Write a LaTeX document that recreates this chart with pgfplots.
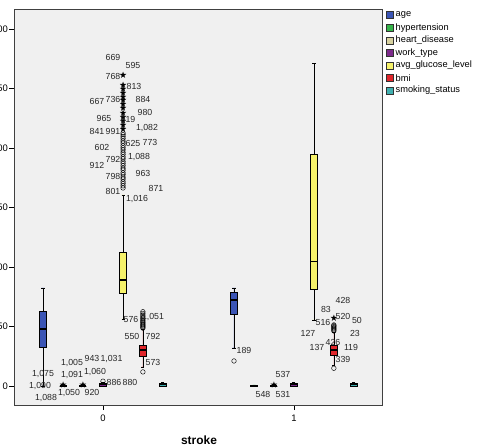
\documentclass[border=0pt]{standalone}
\usepackage{fontspec}
\setmainfont{Liberation Sans}
\usepackage{pgfplots}
\pgfplotsset{compat=1.18}
\usepgfplotslibrary{statistics}
\definecolor{cage}{RGB}{59,85,181}
\definecolor{chyp}{RGB}{53,180,74}
\definecolor{cheart}{RGB}{216,210,160}
\definecolor{cwork}{RGB}{125,42,140}
\definecolor{cgluc}{RGB}{246,242,106}
\definecolor{cbmi}{RGB}{224,38,43}
\definecolor{csmoke}{RGB}{64,176,176}
\definecolor{bgc}{RGB}{240,240,240}
\pgfdeclareplotmark{fstar}{%
  \pgfpathmoveto{\pgfpointpolar{90}{\pgfplotmarksize}}%
  \pgfpathlineto{\pgfpointpolar{126}{0.4\pgfplotmarksize}}%
  \pgfpathlineto{\pgfpointpolar{162}{\pgfplotmarksize}}%
  \pgfpathlineto{\pgfpointpolar{198}{0.4\pgfplotmarksize}}%
  \pgfpathlineto{\pgfpointpolar{234}{\pgfplotmarksize}}%
  \pgfpathlineto{\pgfpointpolar{270}{0.4\pgfplotmarksize}}%
  \pgfpathlineto{\pgfpointpolar{306}{\pgfplotmarksize}}%
  \pgfpathlineto{\pgfpointpolar{342}{0.4\pgfplotmarksize}}%
  \pgfpathlineto{\pgfpointpolar{18}{\pgfplotmarksize}}%
  \pgfpathlineto{\pgfpointpolar{54}{0.4\pgfplotmarksize}}%
  \pgfpathclose
  \pgfusepathqfill}
\newcommand\bx[7]{%
  \addplot[draw=black, fill=#1, line width=0.5pt,
    boxplot prepared={draw position=#2, lower whisker=#3, lower quartile=#4,
      median=#5, upper quartile=#6, upper whisker=#7,
      box extend=0.037, whisker extend=0.016,
      every median/.style={line width=1.4pt}}] coordinates {};}
\newcommand\lab[3]{\node[font=\fontsize{8.8}{9}\selectfont, text=black!85, inner sep=0pt] at ({#1*1bp},{(447-#2)*1bp}) {#3};}
\newcommand\leg[3]{%
  \fill[#2, draw=black!80, line width=0.4pt] (386bp,{(447-#3-3.5)*1bp}) rectangle (393bp,{(447-#3+3.5)*1bp});
  \node[anchor=west, inner sep=0pt, font=\fontsize{9.3}{10}\selectfont] at (395.5bp,{(447-#3)*1bp}) {#1};}
\begin{document}
\begin{tikzpicture}
\begin{axis}[
  at={(14bp,42bp)}, anchor=south west, scale only axis,
  width=368bp, height=396bp,
  xmin=-0.466, xmax=1.461, ymin=-16, ymax=316.8,
  xtick={0,1}, ytick={0,50,100,150,200,250,300},
  xtick pos=bottom, ytick pos=left,
  tick align=outside, major tick length=5bp,
  axis background/.style={fill=bgc},
  axis line style={black!75, line width=0.6pt},
  tick style={black, line width=0.5pt},
  ticklabel style={font=\fontsize{9.5}{10}\selectfont},
  /pgf/number format/assume math mode=true,
  yticklabel style={inner sep=1bp},
  xticklabel style={inner sep=4.5bp},
  clip=false,
  boxplot/draw direction=y,
]
% stroke = 0
\bx{cage}{-0.314}{0}{32.8}{48}{63}{82.4}
\bx{chyp}{-0.209}{0}{0}{0}{0}{0}
\bx{cheart}{-0.105}{0}{0}{0}{0}{0}
\bx{cwork}{0}{0}{0}{1}{2}{3}
\bx{cgluc}{0.105}{56.3}{78}{89}{112}{160.5}
\bx{cbmi}{0.209}{16}{25.2}{30.3}{34.5}{47.5}
\bx{csmoke}{0.314}{0}{0}{1}{2}{3}
% stroke = 1
\bx{cage}{0.686}{32}{60.5}{72.3}{79}{82.4}
\bx{chyp}{0.791}{0}{0}{0}{1}{1}
\bx{cheart}{0.895}{0}{0}{0}{0}{0}
\bx{cwork}{1}{0}{0}{1}{2}{3}
\bx{cgluc}{1.105}{55.5}{81.3}{104.5}{195}{271.4}
\bx{cbmi}{1.209}{17.6}{26}{30.3}{34.5}{45}
\bx{csmoke}{1.314}{0}{0}{1}{2}{3}
% circle outliers
\addplot[only marks, mark=o, mark size=2.3bp, black, line width=0.45pt] coordinates {
 (0,4)
 (0.105,166.4) (0.105,168.2) (0.105,170.1) (0.105,171.8) (0.105,173.9) (0.105,175.5)
 (0.105,177.6) (0.105,179.2) (0.105,181.4) (0.105,183.0) (0.105,185.1) (0.105,187.0)
 (0.105,188.7) (0.105,190.9) (0.105,192.5) (0.105,194.6) (0.105,196.3) (0.105,198.4)
 (0.105,200.2) (0.105,202.0) (0.105,204.1) (0.105,205.8) (0.105,207.9) (0.105,209.6)
 (0.105,211.2) (0.105,212.6)
 (0.209,11.8) (0.209,48.6) (0.209,49.4) (0.209,50.3) (0.209,51.2) (0.209,52.0)
 (0.209,53.1) (0.209,53.9) (0.209,55.0) (0.209,56.2) (0.209,57.1) (0.209,58.3)
 (0.209,59.6) (0.209,61.0) (0.209,62.4)
 (0.686,21)
 (1.209,14.9) (1.209,46.2) (1.209,47.1) (1.209,48.0) (1.209,48.9) (1.209,49.8)
 (1.209,50.6) (1.209,51.3)
};
% extreme outliers
\addplot[only marks, mark=fstar, mark size=3.4bp, black, fill=black] coordinates {
 (-0.209,1) (-0.105,1) (0.895,1)
 (0.105,215.9) (0.105,219.3) (0.105,222.7) (0.105,226) (0.105,229.4) (0.105,233.6)
 (0.105,236.9) (0.105,240.3) (0.105,242.9) (0.105,246.2) (0.105,249.6) (0.105,252.9)
 (0.105,261.3)
 (1.209,57.1)
};
\end{axis}
% point labels
\lab{113}{57}{669}
\lab{133}{65}{595}
\lab{113}{76}{768}
\lab{134}{86}{813}
\lab{97}{101}{667}
\lab{113}{99}{736}
\lab{143}{99}{884}
\lab{104}{118}{965}
\lab{128}{119}{819}
\lab{145}{112}{980}
\lab{97}{131}{841}
\lab{113}{131}{991}
\lab{147}{128}{1,082}
\lab{102}{147}{602}
\lab{133}{143}{625}
\lab{150}{142}{773}
\lab{113}{159}{792}
\lab{139}{157}{1,088}
\lab{97}{165}{912}
\lab{113}{176}{798}
\lab{143}{173}{963}
\lab{156}{188}{871}
\lab{113}{191}{801}
\lab{137}{199}{1,016}
\lab{43}{374}{1,075}
\lab{40}{386}{1,090}
\lab{46}{398}{1,088}
\lab{72}{363}{1,005}
\lab{72}{375}{1,091}
\lab{69}{393}{1,050}
\lab{92}{358}{943}
\lab{111.5}{359}{1,031}
\lab{95}{372}{1,060}
\lab{92}{392}{920}
\lab{114}{382}{886}
\lab{130}{382}{880}
\lab{131}{319}{576}
\lab{153}{317}{1,051}
\lab{132}{336}{550}
\lab{153}{336}{792}
\lab{153}{362}{573}
\lab{244}{350}{189}
\lab{283}{374}{537}
\lab{263}{394}{548}
\lab{283}{394}{531}
\lab{343}{300}{428}
\lab{326}{309}{83}
\lab{323}{322}{516}
\lab{343}{316}{520}
\lab{357}{320}{50}
\lab{308}{333}{127}
\lab{355}{333}{23}
\lab{317}{347}{137}
\lab{333}{342}{426}
\lab{351}{347}{119}
\lab{343}{359}{339}
% x label
\node[font=\bfseries\fontsize{12}{12}\selectfont] at (199bp,7bp) {stroke};
% legend
\leg{age}{cage}{15}
\leg{hypertension}{chyp}{28}
\leg{heart\_disease}{cheart}{40.5}
\leg{work\_type}{cwork}{53}
\leg{avg\_glucose\_level}{cgluc}{65.5}
\leg{bmi}{cbmi}{78}
\leg{smoking\_status}{csmoke}{90.5}
\pgfresetboundingbox
\path[use as bounding box] (0,0) rectangle (485bp,447bp);
\end{tikzpicture}
\end{document}
